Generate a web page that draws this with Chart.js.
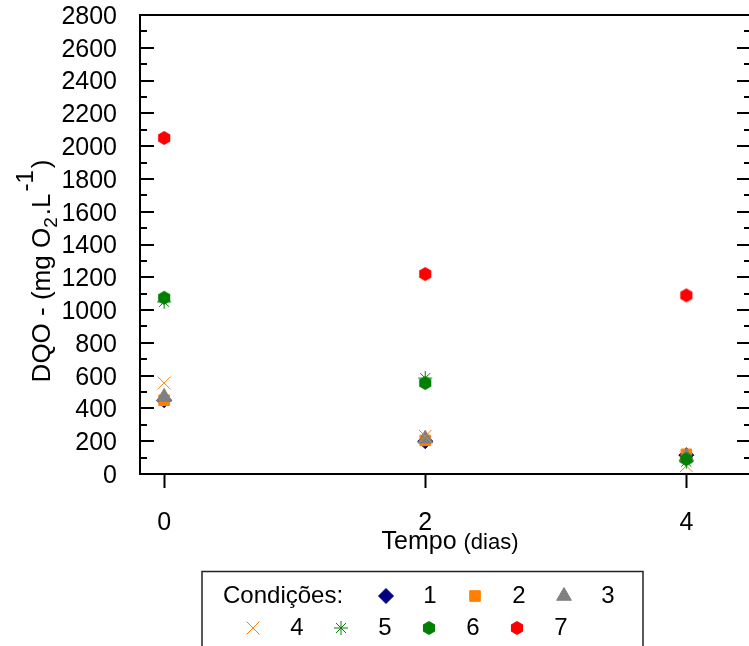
<!DOCTYPE html>
<html>
<head>
<meta charset="utf-8">
<title>DQO</title>
<script src="https://cdn.jsdelivr.net/npm/chart.js@4/dist/chart.umd.min.js"></script>
<style>
  html, body { margin: 0; padding: 0; background: #fff; }
  #wrap { width: 749px; height: 646px; }
</style>
</head>
<body>
<div id="wrap"><canvas id="myChart" width="749" height="646"></canvas></div>
<script>
// dias de ensaio
const tempo = [0, 2, 4];
const xTicks = [0, 2, 4];
const yMin = 0, yMax = 2800, yStep = 200, yMinor = 100;

// DQO (mg O2/L) por condicao
const cond1 = [450, 200, 115];
const cond2 = [450, 205, 120];
const cond3 = [470, 215, 105];
const cond4 = [555, 230, 50];
const cond5 = [1050, 585, 75];
const cond6 = [1075, 555, 90];
const cond7 = [2050, 1220, 1090];
const condLabels = ['1', '2', '3', '4', '5', '6', '7'];

const FONT = "'Liberation Sans', Arial, sans-serif";

// hexagono em pe (ponta para cima)
function hexagon(color, r) {
  const c = document.createElement('canvas');
  const s = Math.ceil(r * 2 + 2);
  c.width = s; c.height = s;
  const g = c.getContext('2d');
  g.fillStyle = color;
  g.beginPath();
  for (let i = 0; i < 6; i++) {
    const a = Math.PI / 2 + i * Math.PI / 3;
    g.lineTo(s / 2 + r * Math.cos(a), s / 2 - r * Math.sin(a));
  }
  g.closePath();
  g.fill();
  return c;
}

const styles = [
  { data: cond1, color: '#000080', pointStyle: 'rectRot', radius: 7.5, border: 1 },
  { data: cond2, color: '#ff8000', pointStyle: 'rect', radius: 7.5, border: 1 },
  { data: cond3, color: '#808080', pointStyle: 'triangle', radius: 8.5, border: 1 },
  { data: cond4, color: '#ff8000', pointStyle: 'crossRot', radius: 9, border: 1 },
  { data: cond5, color: '#008000', pointStyle: 'star', radius: 7, border: 1 },
  { data: cond6, color: '#008000', pointStyle: hexagon('#008000', 7), radius: 7, border: 0 },
  { data: cond7, color: '#ff0000', pointStyle: hexagon('#ff0000', 7), radius: 7, border: 0 }
];

const datasets = styles.map((s, i) => ({
  label: condLabels[i],
  data: tempo.map((t, j) => ({ x: t, y: s.data[j] })),
  pointStyle: s.pointStyle,
  pointRadius: s.radius,
  pointBackgroundColor: s.color,
  pointBorderColor: s.color,
  pointBorderWidth: s.border,
  showLine: false,
  order: styles.length - i
}));

// moldura superior e tracos internos do eixo y (esquerda e direita)
const frame = {
  id: 'frame',
  afterDraw(chart) {
    const { ctx, chartArea: a, scales: { y } } = chart;
    ctx.save();
    ctx.strokeStyle = '#000';
    ctx.lineWidth = 2;
    ctx.beginPath();
    ctx.moveTo(a.left - 1, a.top);
    ctx.lineTo(a.right + 2, a.top);
    for (let v = yMin; v <= yMax; v += yMinor) {
      const py = Math.round(y.getPixelForValue(v));
      const len = v % yStep === 0 ? 14 : 7;
      ctx.moveTo(a.left, py);
      ctx.lineTo(a.left + len, py);
      ctx.moveTo(a.right + 2, py);
      ctx.lineTo(a.right + 2 - len, py);
    }
    ctx.stroke();
    ctx.restore();
  }
};

// titulos dos eixos com subscrito e sobrescrito
const titles = {
  id: 'titles',
  afterDraw(chart) {
    const ctx = chart.ctx;
    ctx.save();
    ctx.fillStyle = '#000';
    ctx.textBaseline = 'alphabetic';

    const parts = [
      { t: 'DQO - (mg O', size: 26, dy: 0, gap: 0 },
      { t: '2', size: 19, dy: 7, gap: 2 },
      { t: '.L', size: 26, dy: 0, gap: 2 },
      { t: '-1', size: 24, dy: -17, gap: 2 },
      { t: ')', size: 26, dy: 0, gap: 0 }
    ];
    let total = 0;
    parts.forEach(p => {
      ctx.font = p.size + 'px ' + FONT;
      p.w = ctx.measureText(p.t).width;
      total += p.w + p.gap;
    });
    ctx.translate(50, 271);
    ctx.rotate(-Math.PI / 2);
    let x = -total / 2;
    parts.forEach(p => {
      ctx.font = p.size + 'px ' + FONT;
      ctx.fillText(p.t, x, p.dy);
      x += p.w + p.gap;
    });
    ctx.setTransform(1, 0, 0, 1, 0, 0);

    ctx.font = '25px ' + FONT;
    const w1 = ctx.measureText('Tempo ').width;
    ctx.font = '22px ' + FONT;
    const w2 = ctx.measureText('(dias)').width;
    const x0 = 450 - (w1 + w2) / 2;
    ctx.font = '25px ' + FONT;
    ctx.fillText('Tempo', x0, 549);
    ctx.font = '22px ' + FONT;
    ctx.fillText('(dias)', x0 + w1, 549);
    ctx.restore();
  }
};

// legenda em caixa, duas linhas
const legendBox = {
  id: 'legendBox',
  afterDraw(chart) {
    const ctx = chart.ctx;
    ctx.save();
    ctx.strokeStyle = '#222';
    ctx.lineWidth = 1.5;
    ctx.strokeRect(202, 571.5, 441, 90);

    ctx.fillStyle = '#000';
    ctx.font = '24px ' + FONT;
    ctx.textBaseline = 'middle';
    ctx.textAlign = 'left';
    ctx.fillText('Condições:', 223, 596);

    const rows = [
      { y: 596, x: 386, pitch: 89, items: [0, 1, 2] },
      { y: 628, x: 253, pitch: 88, items: [3, 4, 5, 6] }
    ];
    rows.forEach(r => {
      r.items.forEach((idx, k) => {
        const s = styles[idx];
        const mx = r.x + k * r.pitch;
        ctx.fillStyle = s.color;
        ctx.strokeStyle = s.color;
        ctx.lineWidth = s.border || 1;
        Chart.helpers.drawPoint(ctx, {
          pointStyle: s.pointStyle, radius: s.radius, rotation: 0, borderWidth: s.border
        }, mx, r.y);
        ctx.fillStyle = '#000';
        ctx.textAlign = 'center';
        ctx.fillText(condLabels[idx], mx + 44, r.y);
      });
    });
    ctx.restore();
  }
};

const ctx = document.getElementById('myChart');

new Chart(ctx, {
  type: 'scatter',
  data: { datasets },
  options: {
    responsive: false,
    animation: false,
    events: [],
    layout: { autoPadding: false, padding: { top: 15, right: 0, bottom: 0, left: 0 } },
    plugins: {
      legend: { display: false },
      tooltip: { enabled: false }
    },
    scales: {
      x: {
        type: 'linear',
        min: -0.185,
        max: 4.48,
        afterBuildTicks: s => { s.ticks = xTicks.map(v => ({ value: v })); },
        afterFit: s => { s.height = 172; s.paddingLeft = 0; s.paddingRight = 0; },
        ticks: {
          color: '#000',
          font: { family: FONT, size: 25 },
          padding: 20,
          maxRotation: 0,
          autoSkip: false
        },
        grid: {
          drawOnChartArea: false,
          drawTicks: true,
          tickLength: 14,
          tickWidth: 2,
          tickColor: '#000'
        },
        border: { display: true, color: '#000', width: 2 }
      },
      y: {
        min: yMin,
        max: yMax,
        afterFit: s => { s.width = 140; s.paddingTop = 0; s.paddingBottom = 0; },
        ticks: {
          stepSize: yStep,
          autoSkip: false,
          callback: v => String(v),
          color: '#000',
          font: { family: FONT, size: 25 },
          padding: 23,
          labelOffset: 2
        },
        grid: { display: false, drawTicks: false },
        border: { display: true, color: '#000', width: 2 }
      }
    }
  },
  plugins: [frame, titles, legendBox]
});
</script>
</body>
</html>
